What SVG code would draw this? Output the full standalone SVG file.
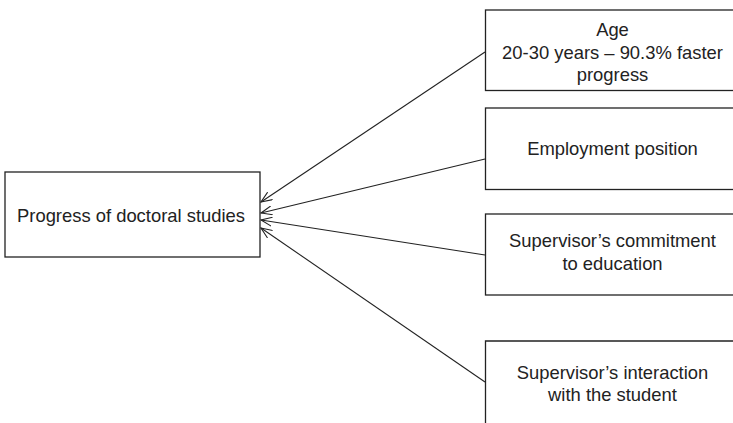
<svg xmlns="http://www.w3.org/2000/svg" width="733" height="423" viewBox="0 0 733 423">
<defs>
<style>
.box{fill:#fff;stroke:#222;stroke-width:1.3}
.t{font-family:"Liberation Sans",Arial,sans-serif;font-size:18.4px;fill:#222;text-anchor:middle}
.c{stroke:#222;stroke-width:1.1;fill:none;marker-end:url(#ah)}
</style>
<marker id="ah" viewBox="0 0 12 10" refX="11" refY="5" markerWidth="12" markerHeight="10" markerUnits="userSpaceOnUse" orient="auto">
<path d="M0,0.5 L11,5 L0,9.5" fill="none" stroke="#222" stroke-width="1.1"/>
</marker>
</defs>
<rect width="733" height="423" fill="#fff"/>
<g id="progress">
<rect class="box" x="5" y="172" width="255" height="85"/>
<text class="t" x="131" y="222">Progress of doctoral studies</text>
</g>
<g id="age">
<rect class="box" x="485.5" y="10" width="260" height="80.5"/>
<text class="t" x="612.5" y="36">Age</text>
<text class="t" x="612.5" y="58.5">20-30 years – 90.3% faster</text>
<text class="t" x="612.5" y="80.5">progress</text>
</g>
<g id="employment">
<rect class="box" x="485.5" y="108" width="260" height="81.5"/>
<text class="t" x="612.5" y="155">Employment position</text>
</g>
<g id="commitment">
<rect class="box" x="485.5" y="214" width="260" height="81"/>
<text class="t" x="612.5" y="247">Supervisor’s commitment</text>
<text class="t" x="612.5" y="270">to education</text>
</g>
<g id="interaction">
<path class="box" d="M485.5,430 L485.5,341 L745,341" fill="none"/>
<text class="t" x="612.5" y="379">Supervisor’s interaction</text>
<text class="t" x="612.5" y="401">with the student</text>
</g>
<g id="connectors">
<line class="c" x1="485" y1="52" x2="261" y2="202"/>
<line class="c" x1="485" y1="159" x2="261" y2="213"/>
<line class="c" x1="485" y1="255" x2="261" y2="220"/>
<line class="c" x1="485" y1="382" x2="261" y2="228"/>
</g>
</svg>
